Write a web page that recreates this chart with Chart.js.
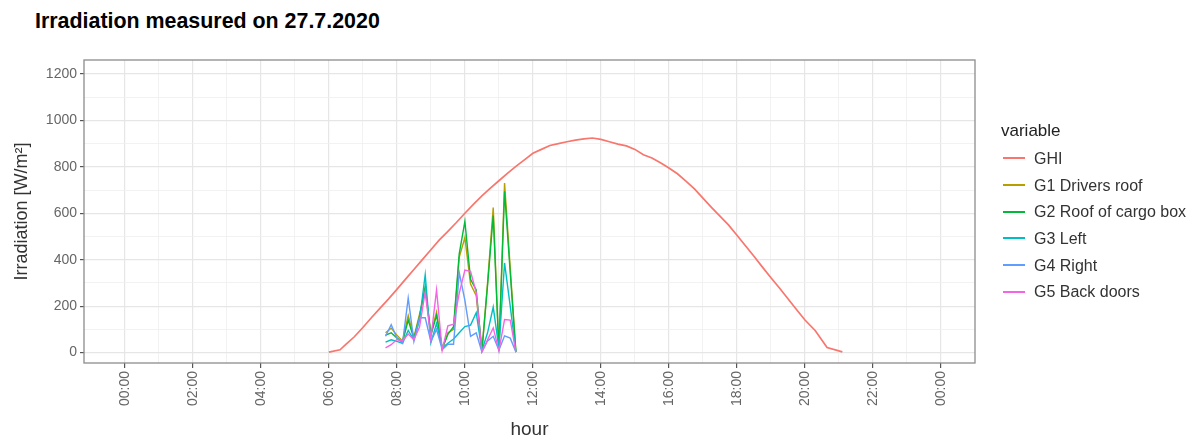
<!DOCTYPE html>
<html>
<head>
<meta charset="utf-8">
<title>Irradiation measured on 27.7.2020</title>
<script src="https://cdn.jsdelivr.net/npm/chart.js@4.4.1/dist/chart.umd.min.js"></script>
<style>
  html, body { margin: 0; padding: 0; background: #ffffff; }
  body { font-family: "Liberation Sans", Arial, sans-serif; }
  #wrap { position: relative; width: 1188px; height: 441px; overflow: hidden; }
  #chart { position: absolute; left: 0; top: 0; }
  #title { position: absolute; left: 35px; top: 11px; font-size: 21.4px; line-height: 21px;
           font-weight: bold; color: #000; white-space: nowrap; }
  .leg-title { position: absolute; font-size: 17px; line-height: 17px; color: #222; white-space: nowrap; }
  .leg-text { position: absolute; font-size: 16px; line-height: 16px; color: #333; white-space: nowrap; }
  .leg-line { position: absolute; width: 22px; height: 2px; }
</style>
</head>
<body>
<div id="wrap">
  <div id="title">Irradiation measured on 27.7.2020</div>
  <canvas id="chart" width="1188" height="441"></canvas>
  <div id="legend"></div>
</div>
<script>
// Global horizontal irradiance, hour of day and W/m²
const ghiTimes = [6.0, 6.33, 6.5, 6.75, 7.0, 7.25, 7.5, 7.75, 8.0, 8.25, 8.5, 8.75, 9.0, 9.25, 9.5, 9.75,
  10.0, 10.25, 10.5, 10.75, 11.0, 11.25, 11.5, 11.75, 12.0, 12.25, 12.5, 12.75, 13.0, 13.25, 13.5, 13.75,
  14.0, 14.25, 14.5, 14.75, 15.0, 15.25, 15.5, 15.75, 16.0, 16.25, 16.5, 16.75, 17.0, 17.25, 17.5, 17.75,
  18.0, 18.25, 18.5, 18.75, 19.0, 19.25, 19.5, 19.75, 20.0, 20.3, 20.65, 21.1];
const ghiValues = [2, 12, 35, 68, 108, 150, 190, 230, 272, 315, 358, 400, 443, 485, 522, 560,
  600, 638, 675, 708, 740, 772, 802, 830, 858, 875, 892, 900, 908, 915, 920, 924,
  918, 908, 898, 890, 875, 852, 838, 817, 795, 770, 738, 705, 665, 625, 588, 550,
  505, 460, 415, 368, 322, 278, 232, 185, 140, 95, 22, 3];

// Vehicle sensors, 10-minute samples
const sensorTimes = ["07:40", "07:50", "08:00", "08:10", "08:20", "08:30", "08:40", "08:50", "09:00", "09:10",
  "09:20", "09:30", "09:40", "09:50", "10:00", "10:10", "10:20", "10:30", "10:40", "10:50", "11:00", "11:10",
  "11:20", "11:30"];
const g1Values = [85, 105, 75, 50, 160, 65, 165, 270, 80, 175, 15, 85, 100, 410, 495, 295, 245, 8, 300, 625, 10, 730, 365, 2];
const g2Values = [75, 85, 63, 45, 140, 60, 155, 285, 75, 160, 18, 78, 112, 425, 565, 315, 270, 6, 290, 590, 8, 695, 345, 2];
const g3Values = [45, 55, 48, 40, 95, 55, 140, 335, 42, 125, 20, 40, 58, 85, 112, 118, 172, 8, 85, 196, 20, 386, 200, 2];
const g4Values = [70, 120, 63, 40, 235, 48, 150, 150, 48, 100, 12, 36, 36, 345, 225, 70, 85, 3, 50, 70, 10, 72, 62, 2];
const g5Values = [20, 34, 56, 50, 80, 55, 110, 262, 60, 270, 10, 115, 122, 255, 355, 350, 258, 3, 55, 106, 8, 142, 140, 2];

const seriesNames = ["GHI", "G1 Drivers roof", "G2 Roof of cargo box", "G3 Left", "G4 Right", "G5 Back doors"];
const seriesColors = ["#F8766D", "#B79F00", "#00BA38", "#00BFC4", "#619CFF", "#F564E3"];

// Axis breaks
const xTickHours = [];
for (let h = 0; h <= 24; h++) xTickHours.push(h);
const yTickValues = [];
for (let v = 0; v <= 1200; v += 100) yTickValues.push(v);

const toHours = s => { const [h, m] = s.split(":").map(Number); return h + m / 60; };
const pairs = (xs, ys) => xs.map((x, i) => ({ x: x, y: ys[i] }));
const sensorHours = sensorTimes.map(toHours);

const seriesData = [
  pairs(ghiTimes, ghiValues),
  pairs(sensorHours, g1Values),
  pairs(sensorHours, g2Values),
  pairs(sensorHours, g3Values),
  pairs(sensorHours, g4Values),
  pairs(sensorHours, g5Values)
];

const fmtHour = v => String(v % 24).padStart(2, "0") + ":00";

// Grey frame round the plotting panel
const panelBorder = {
  id: "panelBorder",
  afterDraw(chart) {
    const { ctx, chartArea: a } = chart;
    ctx.save();
    ctx.strokeStyle = "#8c8c8c";
    ctx.lineWidth = 1.3;
    ctx.strokeRect(a.left, a.top, a.right - a.left, a.bottom - a.top);
    ctx.restore();
  }
};

const font = "'Liberation Sans', Arial, sans-serif";

new Chart(document.getElementById("chart"), {
  type: "line",
  data: {
    datasets: seriesNames.map((name, i) => ({
      label: name,
      data: seriesData[i],
      borderColor: seriesColors[i],
      backgroundColor: seriesColors[i],
      borderWidth: i === 0 ? 1.7 : 1.4,
      pointRadius: 0,
      tension: 0,
      fill: false
    })).reverse()
  },
  options: {
    responsive: false,
    animation: false,
    events: [],
    layout: { padding: { left: 0, top: 60, right: 213, bottom: 0 } },
    plugins: { legend: { display: false }, title: { display: false }, tooltip: { enabled: false } },
    scales: {
      x: {
        type: "linear",
        min: -1.2,
        max: 25,
        afterFit(s) { s.height = 78; },
        afterBuildTicks(s) { s.ticks = xTickHours.map(v => ({ value: v })); },
        border: { display: false },
        grid: {
          color: ctx => (ctx.tick && ctx.tick.value % 2 === 0) ? "#e6e6e6" : "#efefef",
          lineWidth: ctx => (ctx.tick && ctx.tick.value % 2 === 0) ? 1.2 : 0.8,
          tickLength: 5,
          tickColor: ctx => (ctx.tick && ctx.tick.value % 2 === 0) ? "#555555" : "rgba(0,0,0,0)",
          tickWidth: 1.2
        },
        ticks: {
          autoSkip: false,
          minRotation: 90,
          maxRotation: 90,
          padding: 3,
          color: "#666666",
          font: { family: font, size: 14 },
          callback: v => (v % 2 === 0 ? fmtHour(v) : "")
        },
        title: {
          display: true,
          text: "hour",
          color: "#333333",
          font: { family: font, size: 19 },
          padding: { top: 0, bottom: 0 }
        }
      },
      y: {
        type: "linear",
        min: -45,
        max: 1260,
        afterFit(s) { s.width = 84; },
        afterBuildTicks(s) { s.ticks = yTickValues.map(v => ({ value: v })); },
        border: { display: false },
        grid: {
          color: ctx => (ctx.tick && ctx.tick.value % 200 === 0) ? "#e6e6e6" : "#efefef",
          lineWidth: ctx => (ctx.tick && ctx.tick.value % 200 === 0) ? 1.2 : 0.8,
          tickLength: 4,
          tickColor: ctx => (ctx.tick && ctx.tick.value % 200 === 0) ? "#555555" : "rgba(0,0,0,0)",
          tickWidth: 1.2
        },
        ticks: {
          padding: 3,
          color: "#666666",
          font: { family: font, size: 14 },
          callback: v => (v % 200 === 0 ? String(v) : "")
        },
        title: {
          display: true,
          text: "Irradiation [W/m²]",
          color: "#333333",
          font: { family: font, size: 18 },
          padding: { top: 11, bottom: 0 }
        }
      }
    }
  },
  plugins: [panelBorder]
});

// Legend on the right
(function buildLegend() {
  const box = document.getElementById("legend");
  const head = document.createElement("div");
  head.className = "leg-title";
  head.textContent = "variable";
  head.style.left = "1001px";
  head.style.top = "122px";
  box.appendChild(head);
  seriesNames.forEach((name, i) => {
    const base = 164.3 + 26.7 * i;
    const line = document.createElement("div");
    line.className = "leg-line";
    line.style.left = "1003px";
    line.style.top = (base - 7) + "px";
    line.style.background = seriesColors[i];
    box.appendChild(line);
    const txt = document.createElement("div");
    txt.className = "leg-text";
    txt.textContent = name;
    txt.style.left = "1034px";
    txt.style.top = (base - 13.5) + "px";
    box.appendChild(txt);
  });
})();
</script>
</body>
</html>
